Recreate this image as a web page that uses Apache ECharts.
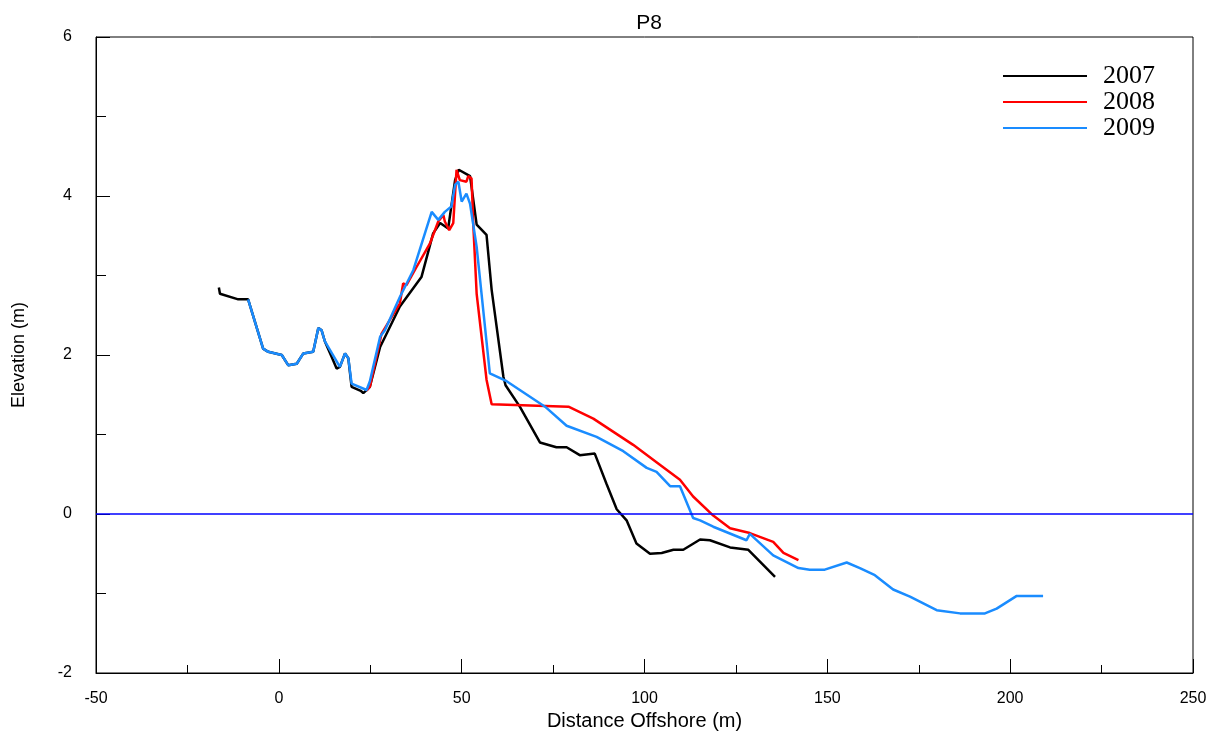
<!DOCTYPE html>
<html>
<head>
<meta charset="utf-8">
<script src="https://cdn.jsdelivr.net/npm/echarts@6/dist/echarts.min.js"></script>
<style>html,body{margin:0;padding:0;background:#fff}#c{width:1223px;height:738px}</style>
</head>
<body>
<div id="c"></div>
<script>
const seriesNames = ['2007', '2008', '2009'];
const x2007 = [-16.4, -16.1, -11.1, -8.4, -4.3, -2.9, 0.8, 2.6, 4.9, 6.7, 9.4, 10.8, 11.7, 12.6, 14.4, 15.8, 16.7, 18.1, 19.0, 19.9, 22.4, 23.1, 24.9, 27.7, 33.1, 39.0, 42.2, 44.1, 46.3, 48.2, 49.2, 52.3, 54.1, 56.8, 58.2, 61.4, 62.0, 65.9, 71.4, 75.9, 78.7, 82.3, 86.4, 89.6, 92.4, 95.1, 97.8, 101.5, 104.7, 107.9, 110.6, 115.2, 117.9, 123.4, 128.4, 135.7];
const y2007 = [2.85, 2.77, 2.70, 2.70, 2.08, 2.04, 2.00, 1.87, 1.89, 2.02, 2.04, 2.34, 2.31, 2.17, 1.98, 1.83, 1.85, 2.02, 1.96, 1.60, 1.55, 1.52, 1.60, 2.10, 2.61, 2.98, 3.53, 3.66, 3.59, 4.20, 4.33, 4.25, 3.64, 3.51, 2.82, 1.73, 1.62, 1.35, 0.90, 0.84, 0.84, 0.74, 0.76, 0.38, 0.06, -0.08, -0.37, -0.50, -0.49, -0.45, -0.45, -0.32, -0.33, -0.42, -0.45, -0.79];
const x2008 = [24.0, 24.9, 28.1, 33.1, 34.0, 34.9, 37.7, 41.3, 43.6, 45.0, 45.4, 46.6, 47.7, 48.6, 49.5, 51.3, 51.8, 52.7, 53.2, 54.1, 56.8, 58.2, 79.2, 86.0, 96.9, 104.2, 109.7, 113.3, 118.8, 123.4, 128.8, 135.2, 138.0, 142.1];
const y2008 = [1.55, 1.60, 2.27, 2.65, 2.90, 2.88, 3.11, 3.40, 3.68, 3.76, 3.68, 3.57, 3.66, 4.33, 4.20, 4.18, 4.25, 4.22, 3.62, 2.77, 1.69, 1.38, 1.35, 1.20, 0.87, 0.62, 0.43, 0.22, -0.02, -0.18, -0.24, -0.35, -0.49, -0.58];
const x2009 = [-8.4, -4.3, -2.9, 0.8, 2.6, 4.9, 6.7, 9.4, 10.8, 11.7, 12.6, 16.7, 18.1, 19.0, 19.9, 24.0, 24.9, 27.7, 29.0, 33.1, 36.8, 41.8, 43.6, 45.4, 47.2, 48.2, 49.1, 50.0, 51.3, 52.3, 54.1, 57.7, 62.3, 72.8, 78.7, 86.9, 94.2, 100.6, 103.3, 107.0, 109.7, 113.3, 115.2, 118.8, 127.9, 128.8, 135.2, 142.1, 145.2, 149.3, 155.3, 158.9, 163.0, 168.0, 172.6, 179.9, 186.3, 193.1, 196.3, 201.8, 209.0];
const y2009 = [2.70, 2.08, 2.04, 2.00, 1.87, 1.89, 2.02, 2.04, 2.34, 2.31, 2.17, 1.85, 2.02, 1.96, 1.64, 1.56, 1.67, 2.23, 2.31, 2.73, 3.07, 3.80, 3.70, 3.80, 3.87, 4.14, 4.18, 3.93, 4.03, 3.90, 3.36, 1.77, 1.67, 1.35, 1.11, 0.97, 0.79, 0.58, 0.53, 0.35, 0.35, -0.05, -0.08, -0.16, -0.33, -0.25, -0.52, -0.68, -0.70, -0.70, -0.61, -0.68, -0.77, -0.95, -1.04, -1.21, -1.25, -1.25, -1.19, -1.03, -1.03];
const xTicks = [-50, 0, 50, 100, 150, 200, 250];
const yTicks = [-2, 0, 2, 4, 6];

const pairs = (xs, ys) => xs.map((v, i) => [v, ys[i]]);
const colors = ['#000000', '#ff0000', '#1a8cff'];
const font = 'Liberation Sans, Arial, sans-serif';

const chart = echarts.init(document.getElementById('c'));
const datasets = [pairs(x2007, y2007), pairs(x2008, y2008), pairs(x2009, y2009)];
chart.setOption({
  animation: false,
  backgroundColor: '#fff',
  title: { text: 'P8', left: 644, textAlign: 'center', top: 8, textStyle: { fontFamily: font, fontSize: 21, fontWeight: 'normal', color: '#000' } },
  grid: { left: 96, right: 30, top: 37, bottom: 65, show: true, borderColor: '#000', borderWidth: 1 },
  legend: {
    data: seriesNames, orient: 'vertical', left: 998, top: 58, icon: 'rect', itemWidth: 84, itemHeight: 2, itemGap: 0,
    textStyle: { fontFamily: 'Liberation Serif, Times New Roman, serif', fontSize: 26, color: '#000', padding: [0, 0, 0, 11], lineHeight: 25 }
  },
  xAxis: {
    type: 'value', min: xTicks[0], max: xTicks[xTicks.length - 1], interval: 50,
    name: 'Distance Offshore (m)', nameLocation: 'middle', nameGap: 32,
    nameTextStyle: { fontFamily: font, fontSize: 20, color: '#000' },
    axisLine: { show: true, onZero: false, lineStyle: { color: '#000', width: 1 } },
    axisTick: { show: true, inside: true, length: 14, lineStyle: { color: '#000' } },
    minorTick: { show: true, splitNumber: 2, length: 8, lineStyle: { color: '#000' } },
    axisLabel: { fontFamily: font, fontSize: 16, color: '#000', margin: 18 },
    splitLine: { show: false }
  },
  yAxis: {
    type: 'value', min: yTicks[0], max: yTicks[yTicks.length - 1], interval: 2,
    name: 'Elevation (m)', nameLocation: 'middle', nameGap: 68, nameRotate: 90,
    nameTextStyle: { fontFamily: font, fontSize: 18, color: '#000' },
    axisLine: { show: true, onZero: false, lineStyle: { color: '#000', width: 1 } },
    axisTick: { show: true, inside: true, length: 14, lineStyle: { color: '#000' } },
    minorTick: { show: true, splitNumber: 2, length: 10, lineStyle: { color: '#000' } },
    axisLabel: { fontFamily: font, fontSize: 16, color: '#000', margin: 24 },
    splitLine: { show: false }
  },
  series: seriesNames.map((n, i) => ({
    name: n, type: 'line', data: datasets[i], symbol: 'none', color: colors[i],
    lineStyle: { color: colors[i], width: 2.5 },
    markLine: i === 0 ? {
      silent: true, symbol: ['none', 'none'], label: { show: false },
      lineStyle: { color: '#0000ff', type: 'solid', width: 1.5 },
      data: [{ yAxis: 0 }]
    } : undefined
  }))
});
</script>
</body>
</html>
